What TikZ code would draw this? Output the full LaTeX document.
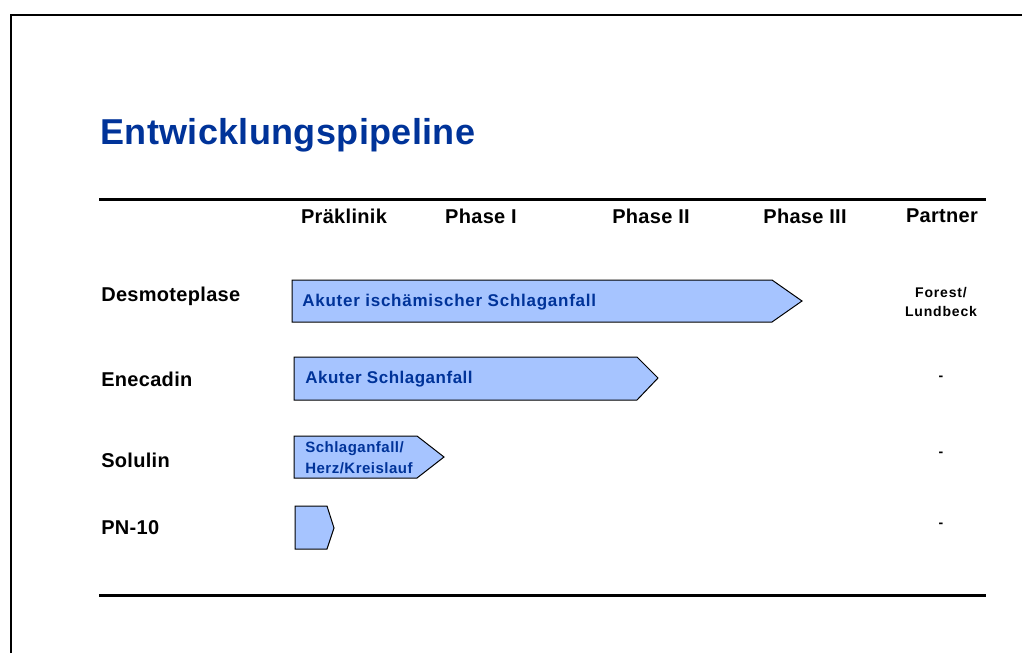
\documentclass[tikz,border=0pt]{standalone}
\usepackage{fontspec}
\usepackage{tikz}
\usepackage{xcolor}
\setmainfont{Liberation Sans}
\definecolor{titleblue}{RGB}{0, 51, 153}
\definecolor{barfill}{RGB}{166, 196, 255}
\tikzset{
  rowlabel/.style = {anchor = west, font = \fontsize{20}{24}\selectfont\bfseries\addfontfeature{LetterSpace=1.5}},
  colhead/.style = {font = \fontsize{20}{24}\selectfont\bfseries\addfontfeature{LetterSpace=1.5}},
  bartext/.style = {anchor = west, text = titleblue, font = \fontsize{17}{21}\selectfont\bfseries\addfontfeature{LetterSpace=3}},
  partnertext/.style = {font = \fontsize{14}{19}\selectfont\bfseries\addfontfeature{LetterSpace=6}},
  bar/.style = {fill = barfill, draw = black, line width = 1pt}
}

\begin{document}
\begin{tikzpicture}[x = 1pt, y = -1pt, line width = 2pt]
\useasboundingbox (0,0) rectangle (1022,653);
% frame
\draw (11,653) -- (11,15) -- (1022,15);
\node[anchor = west, text = titleblue, font = \fontsize{36}{42}\selectfont\bfseries\addfontfeature{LetterSpace=1}] (title) at (96,135) {Entwicklungspipeline};
\draw[line width = 3pt] (99,199) -- (986,199);
\draw[line width = 3pt] (99,595) -- (986,595);
% column heads
\node[colhead] (pre) at (344,216) {Präklinik};
\node[colhead] (ph1) at (481,216) {Phase I};
\node[colhead] (ph2) at (651,216) {Phase II};
\node[colhead] (ph3) at (805,216) {Phase III};
\node[colhead] (partner) at (942,216) {Partner};
% rows
\node[rowlabel] (desmo) at (97,296) {Desmoteplase};
\node[rowlabel] (ene) at (97,379) {Enecadin};
\node[rowlabel] (solu) at (97,460) {Solulin};
\node[rowlabel] (pn) at (97,528) {PN-10};
% bars
\draw[bar] (292,280) -- (772,280) -- (802,301) -- (772,322) -- (292,322) -- cycle;
\node[bartext, font = \fontsize{17}{21}\selectfont\bfseries\addfontfeature{LetterSpace=4.4}] (desmobar) at (298,302) {Akuter ischämischer Schlaganfall};
\draw[bar] (294,357) -- (637,357) -- (658,378) -- (637,400) -- (294,400) -- cycle;
\node[bartext] (enebar) at (301,379) {Akuter Schlaganfall};
\draw[bar] (294,436) -- (417,436) -- (444,457) -- (417,478) -- (294,478) -- cycle;
\node[bartext, font = \fontsize{15}{21}\selectfont\bfseries\addfontfeature{LetterSpace=3.3}, align = left] (solubar) at (301,458) {Schlaganfall/\\Herz/Kreislauf};
\draw[bar] (295,506) -- (327,506) -- (334,528) -- (327,549) -- (295,549) -- cycle;
% partners
\node[partnertext, align = center] (forest) at (941,302) {Forest/\\Lundbeck};
\node[partnertext] (dash1) at (941,378) {-};
\node[partnertext] (dash2) at (941,454) {-};
\node[partnertext] (dash3) at (941,525) {-};
\end{tikzpicture}
\end{document}
